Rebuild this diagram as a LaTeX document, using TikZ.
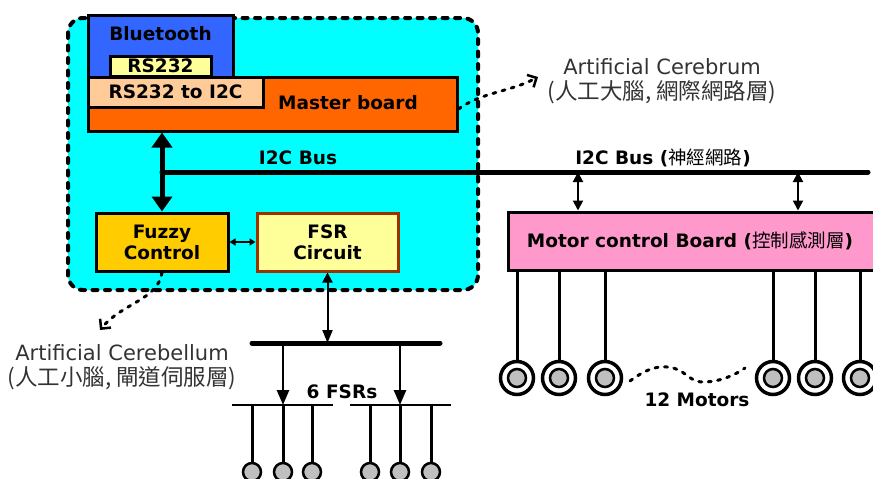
\documentclass[tikz,border=0pt]{standalone}
\usepackage{fontspec}
\setmainfont{DejaVu Sans}
\newfontfamily\cjk{Noto Sans CJK TC}
\usepackage{tikz}
\usetikzlibrary{arrows.meta,positioning}
\definecolor{brainarea}{HTML}{00FFFF}
\definecolor{brainblue}{HTML}{3366FF}
\definecolor{masterorange}{HTML}{FF6600}
\definecolor{peach}{HTML}{FFCC99}
\definecolor{paleyellow}{HTML}{FFFF99}
\definecolor{fuzzygold}{HTML}{FFCC00}
\definecolor{fsrbrown}{HTML}{993300}
\definecolor{motorpink}{HTML}{FF99CC}
\definecolor{notegray}{HTML}{333333}

\begin{document}
\begin{tikzpicture}[x=1pt, y=-1pt,
  board/.style={draw, rectangle, line width=3pt, inner sep=0pt, align=center, font=\bfseries\fontsize{18.5}{21}\selectfont},
  boardtext/.style={font=\bfseries\fontsize{18.5}{21}\selectfont, inner sep=0pt},
  note/.style={align=center, text=notegray, font=\fontsize{21}{25}\selectfont},
  bus/.style={line width=5pt, line cap=round},
  wire/.style={line width=3pt},
  pad/.style={line width=1.2pt},
  bigarrow/.style={line width=5pt, {Triangle[width=20pt,length=15pt]}-{Triangle[width=20pt,length=15pt]}},
  tap/.style={line width=2pt, {Triangle[width=10pt,length=10pt]}-{Triangle[width=10pt,length=10pt]}},
  dots/.style={line width=3pt, line cap=round, dash pattern=on 3pt off 6.5pt},
  hint/.style={dots, -{Straight Barb[width=14pt,length=7pt,line width=2.5pt]}},
  motor/.style={draw, circle, line width=3.5pt, fill=white, minimum size=33pt, inner sep=0pt},
  motorcore/.style={draw, circle, line width=2.5pt, fill=gray!50, minimum size=18pt, inner sep=0pt},
  sensor/.style={draw, circle, line width=2.5pt, fill=gray!50, minimum size=18pt, inner sep=0pt}
]
\useasboundingbox (0,0) rectangle (873,479);
\clip (0,0) rectangle (873,479);

% Cerebrum area
\fill[brainarea, rounded corners=15pt] (68,18) rectangle (478,290);
\draw[line width=4pt, line cap=round, dash pattern=on 5pt off 7.5pt, rounded corners=15pt] (68,18) rectangle (478,290);

% Boards
\node[board, fill=brainblue, minimum width=145pt, minimum height=62pt] (bt) at (160.5,46) {};
\node[boardtext] at (160.5,34) {Bluetooth};
\node[board, fill=masterorange, minimum width=369pt, minimum height=54pt] (master) at (272.5,104) {};
\node[boardtext] at (348,103) {Master board};
\node[board, fill=paleyellow, minimum width=101pt, minimum height=20pt] (rs) at (160.5,66) {RS232};
\node[board, fill=peach, minimum width=175pt, minimum height=30pt] (conv) at (175.5,92) {RS232 to I2C};
\node[board, fill=fuzzygold, minimum width=132pt, minimum height=58pt] (fuzzy) at (162,242) {Fuzzy\\Control};
\node[board, fill=paleyellow, draw=fsrbrown, minimum width=141pt, minimum height=58pt, right=26pt of fuzzy] (fsr) {FSR\\Circuit};
\node[board, fill=motorpink, minimum width=372pt, minimum height=58pt] (mcb) at (694,241) {};
\node[boardtext] at (690,241) {Motor control Board ({\cjk\mdseries 控制感測層})};

% I2C bus
\coordinate (busL) at (162,172);
\coordinate (busR) at (868,172);
\coordinate (tapA) at (578,172);
\coordinate (tapB) at (798,172);
\draw[bus] (busL) -- (busR);
\node[boardtext] at (298,158) {I2C Bus};
\node[boardtext] at (663,158) {I2C Bus ({\cjk\mdseries 神經網路})};
\draw[bigarrow] (fuzzy.north |- master.south) -- (fuzzy.north);
\draw[tap] (tapA) -- (tapA |- mcb.north);
\draw[tap] (tapB) -- (tapB |- mcb.north);
\draw[line width=1.5pt, {Triangle[width=7pt,length=6pt]}-{Triangle[width=7pt,length=6pt]}] (fuzzy) -- (fsr);

% FSRs
\coordinate (fsrL) at (252,343);
\coordinate (fsrR) at (440,343);
\coordinate (padA) at (283,405);
\coordinate (padB) at (400,405);
\draw[bus] (fsrL) -- (fsrR);
\draw[tap, {Triangle[width=10pt,length=10pt]}-{Triangle[width=10pt,length=13pt]}] (fsr.south) -- (fsr.south |- fsrL);
\draw[line width=2.5pt, -{Triangle[width=12pt,length=15pt]}] (padA |- fsrL) -- (padA);
\draw[line width=2.5pt, -{Triangle[width=12pt,length=15pt]}] (padB |- fsrL) -- (padB);
\draw[pad] (232,405) -- (333,405);
\draw[pad] (350,405) -- (451,405);
\foreach \x [count=\i] in {252,283,312,370,400,431} {
  \node[sensor] (s\i) at (\x,472) {};
  \draw[wire] (\x,405) -- (s\i.north);
}
\node[boardtext] at (342,392) {6 FSRs};

% Motors
\foreach \x [count=\i] in {517,559,605,773,815,860} {
  \node[motor] (m\i) at (\x,378) {};
  \node[motorcore] at (m\i) {};
  \draw[wire] (mcb.south -| m\i) -- (m\i.north);
}
\draw[dots] (630,381) .. controls (645,370) and (655,366) .. (667,367) .. controls (685,368) and (688,382) .. (703,382) .. controls (720,382) and (735,375) .. (745,368);
\node[boardtext] at (697,400) {12 Motors};

% Notes
\coordinate (cerebrumtip) at (538,77);
\draw[hint] ([yshift=-5pt]master.east) .. controls (482,92) and (510,92) .. (cerebrumtip);
\node[note, anchor=west] (cerebrum) at (544,81) {Artificial Cerebrum\\{\cjk\fontsize{22.5}{25}\selectfont (人工大腦, 網際網路層)}};
\coordinate (cerebellumtip) at (100,330);
\draw[hint] (fuzzy.south) .. controls (158,300) and (122,303) .. (cerebellumtip);
\node[note] (cerebellum) at (122,367) {Artificial Cerebellum\\{\cjk\fontsize{22.5}{25}\selectfont (人工小腦, 閘道伺服層)}};
\end{tikzpicture}
\end{document}
